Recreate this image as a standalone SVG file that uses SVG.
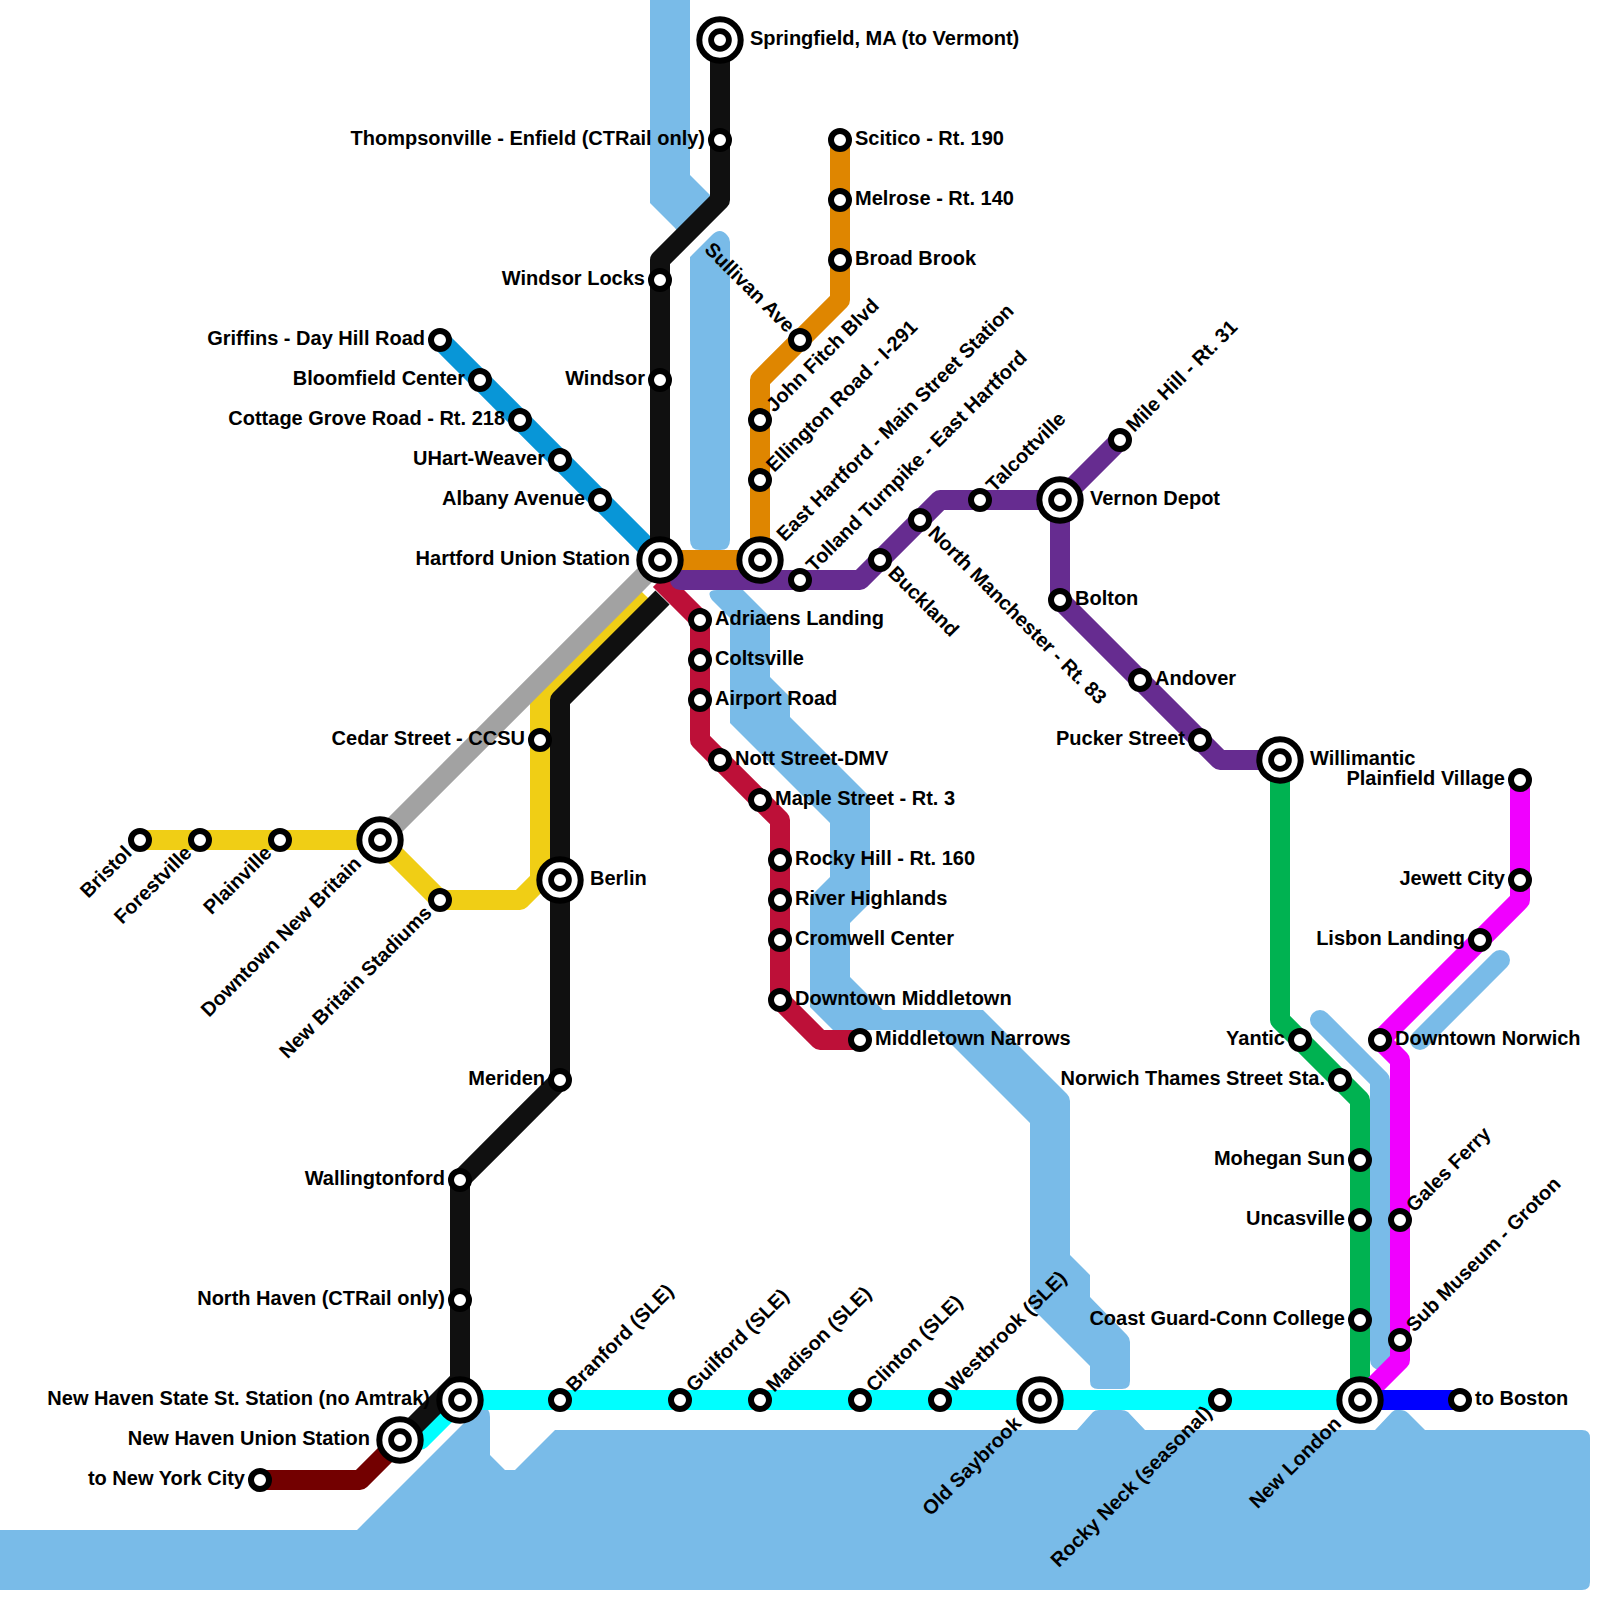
<svg xmlns="http://www.w3.org/2000/svg" width="1600" height="1600" viewBox="0 0 1600 1600">
<style>
.water{fill:#79bbe8}
.ws{fill:none;stroke:#79bbe8;stroke-width:20;stroke-linecap:round;stroke-linejoin:round}
.l{fill:none;stroke-width:20;stroke-linejoin:round}
.s{fill:#fff;stroke:#000;stroke-width:6}
.i{fill:#fff;stroke:#000;stroke-width:6}
.j{fill:#fff;stroke:#000;stroke-width:5.800}
text{font-family:"Liberation Sans",Arial,sans-serif;font-weight:700;font-size:20px;fill:#000}
.e{text-anchor:end}
</style>
<g id="water">
<path class="water" d="M0,1530 L357,1530 L478,1409 Q490,1405 490,1417 L490,1455 L505,1470 L515,1470 L555,1430 L1077,1430 L1093,1412 Q1095,1410 1099,1410 L1121,1410 Q1125,1410 1128,1412 L1145,1430 L1375,1430 L1392,1412 Q1395,1409 1400,1410 Q1405,1410 1408,1413 L1425,1430 L1582,1430 Q1590,1430 1590,1438 L1590,1582 Q1590,1590 1582,1590 L0,1590 Z"/>
<path class="water" d="M650,0 L690,0 L690,175 L710,195 L710,205 L680,235 L675,228 L650,203 Z"/>
<path class="water" d="M690,257 L712,235 Q720,227 727,235 Q730,238 730,242 L730,540 Q730,550 720,550 L700,550 Q690,550 690,540 Z"/>
<path class="water" d="M717,590 L743,590 L770,617 L770,677 L790,697 L790,717 L870,797 L870,903 L850,923 L850,977 L883,1010 L983,1010 L1067,1094 Q1070,1097 1070,1101 L1070,1255 L1090,1275 L1090,1297 L1127,1335 Q1130,1338 1130,1342 L1130,1381 Q1130,1389 1122,1389 L1098,1389 Q1090,1389 1090,1381 L1090,1366 L1030,1306 L1030,1123 L937,1030 L833,1030 L810,1007 L810,897 L830,877 L830,823 L730,723 L730,618 L712,600 Q705,590 717,590 Z"/>
<path class="ws" d="M1320,1020 L1380,1080 L1380,1360"/>
<path class="ws" d="M1420,1040 L1500,960"/>
</g>
<g id="connectors">
<path class="l" stroke="#0896d7" d="M440,340 L660,560"/>
<path class="l" stroke="#f0ce15" d="M140,840 L380,840 L440,900 L520,900 L540,880 L540,700 L645,595"/>
<path class="l" stroke="#a2a2a2" d="M380,840 L660,560"/>
<path class="l" stroke="#00ffff" d="M1360,1400 L460,1400 L420,1440 L400,1440"/>
<path class="l" stroke="#101010" d="M720,40 L720,200 L660,260 L660,560"/>
<path class="l" stroke="#101010" d="M662.500,597.500 L560,700 L560,1080 L460,1180 L460,1380 L400,1440"/>
<path class="l" stroke="#730000" d="M260,1480 L360,1480 L400,1440"/>
<path class="l" stroke="#bd1038" d="M660,580 L700,620 L700,740 L780,820 L780,1000 L820,1040 L860,1040"/>
<path class="l" stroke="#df8600" d="M660,560 L760,560 L760,380 L840,300 L840,140"/>
<path class="l" stroke="#662c90" stroke-linecap="round" d="M680,580 L860,580 L940,500 L1060,500"/>
<path class="l" stroke="#662c90" d="M1120,440 L1060,500 L1060,600 L1220,760 L1280,760"/>
<path class="l" stroke="#00b251" d="M1280,760 L1280,1020 L1360,1100 L1360,1400"/>
<path class="l" stroke="#f000ff" d="M1520,780 L1520,900 L1380,1040 L1400,1060 L1400,1360 L1360,1400"/>
<path class="l" stroke="#0000ff" d="M1360,1400 L1460,1400"/>
</g>
<g id="n-springfield"><circle class="i" cx="720" cy="40" r="20.700"/><circle class="j" cx="720" cy="40" r="8.900"/><text x="750" y="45">Springfield, MA (to Vermont)</text></g>
<g id="n-thompsonville"><circle class="s" cx="720" cy="140" r="9"/><text class="e" x="705" y="145">Thompsonville - Enfield (CTRail only)</text></g>
<g id="n-windsor-locks"><circle class="s" cx="660" cy="280" r="9"/><text class="e" x="645" y="285">Windsor Locks</text></g>
<g id="n-windsor"><circle class="s" cx="660" cy="380" r="9"/><text class="e" x="645" y="385">Windsor</text></g>
<g id="n-griffins"><circle class="s" cx="440" cy="340" r="9"/><text class="e" x="425" y="345">Griffins - Day Hill Road</text></g>
<g id="n-bloomfield"><circle class="s" cx="480" cy="380" r="9"/><text class="e" x="465" y="385">Bloomfield Center</text></g>
<g id="n-cottage"><circle class="s" cx="520" cy="420" r="9"/><text class="e" x="505" y="425">Cottage Grove Road - Rt. 218</text></g>
<g id="n-uhart"><circle class="s" cx="560" cy="460" r="9"/><text class="e" x="545" y="465">UHart-Weaver</text></g>
<g id="n-albany"><circle class="s" cx="600" cy="500" r="9"/><text class="e" x="585" y="505">Albany Avenue</text></g>
<g id="n-hartford"><circle class="i" cx="660" cy="560" r="20.700"/><circle class="j" cx="660" cy="560" r="8.900"/><text class="e" x="630" y="565">Hartford Union Station</text></g>
<g id="n-sullivan"><circle class="s" cx="800" cy="340" r="9"/><text class="e" transform="translate(800,340) rotate(45)" x="-14" y="5">Sullivan Ave</text></g>
<g id="n-john-fitch"><circle class="s" cx="760" cy="420" r="9"/><text transform="translate(760,420) rotate(-45)" x="15" y="5">John Fitch Blvd</text></g>
<g id="n-ellington"><circle class="s" cx="760" cy="480" r="9"/><text transform="translate(760,480) rotate(-45)" x="15" y="5">Ellington Road - I-291</text></g>
<g id="n-east-hartford"><circle class="i" cx="760" cy="560" r="20.700"/><circle class="j" cx="760" cy="560" r="8.900"/><text transform="translate(760,560) rotate(-45)" x="30" y="5">East Hartford - Main Street Station</text></g>
<g id="n-scitico"><circle class="s" cx="840" cy="140" r="9"/><text x="855" y="145">Scitico - Rt. 190</text></g>
<g id="n-melrose"><circle class="s" cx="840" cy="200" r="9"/><text x="855" y="205">Melrose - Rt. 140</text></g>
<g id="n-broad-brook"><circle class="s" cx="840" cy="260" r="9"/><text x="855" y="265">Broad Brook</text></g>
<g id="n-tolland"><circle class="s" cx="800" cy="580" r="9"/><text transform="translate(800,580) rotate(-45)" x="15" y="5">Tolland Turnpike - East Hartford</text></g>
<g id="n-buckland"><circle class="s" cx="880" cy="560" r="9"/><text transform="translate(880,560) rotate(45)" x="15" y="5">Buckland</text></g>
<g id="n-north-manchester"><circle class="s" cx="920" cy="520" r="9"/><text transform="translate(920,520) rotate(45)" x="15" y="5">North Manchester - Rt. 83</text></g>
<g id="n-talcottville"><circle class="s" cx="980" cy="500" r="9"/><text transform="translate(980,500) rotate(-45)" x="15" y="5">Talcottville</text></g>
<g id="n-vernon"><circle class="i" cx="1060" cy="500" r="20.700"/><circle class="j" cx="1060" cy="500" r="8.900"/><text x="1090" y="505">Vernon Depot</text></g>
<g id="n-mile-hill"><circle class="s" cx="1120" cy="440" r="9"/><text transform="translate(1120,440) rotate(-45)" x="15" y="5">Mile Hill - Rt. 31</text></g>
<g id="n-bolton"><circle class="s" cx="1060" cy="600" r="9"/><text x="1075" y="605">Bolton</text></g>
<g id="n-andover"><circle class="s" cx="1140" cy="680" r="9"/><text x="1155" y="685">Andover</text></g>
<g id="n-pucker"><circle class="s" cx="1200" cy="740" r="9"/><text class="e" x="1185" y="745">Pucker Street</text></g>
<g id="n-willimantic"><circle class="i" cx="1280" cy="760" r="20.700"/><circle class="j" cx="1280" cy="760" r="8.900"/><text x="1310" y="765">Willimantic</text></g>
<g id="n-adriaens"><circle class="s" cx="700" cy="620" r="9"/><text x="715" y="625">Adriaens Landing</text></g>
<g id="n-coltsville"><circle class="s" cx="700" cy="660" r="9"/><text x="715" y="665">Coltsville</text></g>
<g id="n-airport"><circle class="s" cx="700" cy="700" r="9"/><text x="715" y="705">Airport Road</text></g>
<g id="n-nott"><circle class="s" cx="720" cy="760" r="9"/><text x="735" y="765">Nott Street-DMV</text></g>
<g id="n-maple"><circle class="s" cx="760" cy="800" r="9"/><text x="775" y="805">Maple Street - Rt. 3</text></g>
<g id="n-rocky-hill"><circle class="s" cx="780" cy="860" r="9"/><text x="795" y="865">Rocky Hill - Rt. 160</text></g>
<g id="n-river"><circle class="s" cx="780" cy="900" r="9"/><text x="795" y="905">River Highlands</text></g>
<g id="n-cromwell"><circle class="s" cx="780" cy="940" r="9"/><text x="795" y="945">Cromwell Center</text></g>
<g id="n-downtown-middletown"><circle class="s" cx="780" cy="1000" r="9"/><text x="795" y="1005">Downtown Middletown</text></g>
<g id="n-narrows"><circle class="s" cx="860" cy="1040" r="9"/><text x="875" y="1045">Middletown Narrows</text></g>
<g id="n-cedar"><circle class="s" cx="540" cy="740" r="9"/><text class="e" x="525" y="745">Cedar Street - CCSU</text></g>
<g id="n-bristol"><circle class="s" cx="140" cy="840" r="9"/><text class="e" transform="translate(140,840) rotate(-45)" x="-15" y="5">Bristol</text></g>
<g id="n-forestville"><circle class="s" cx="200" cy="840" r="9"/><text class="e" transform="translate(200,840) rotate(-45)" x="-15" y="5">Forestville</text></g>
<g id="n-plainville"><circle class="s" cx="280" cy="840" r="9"/><text class="e" transform="translate(280,840) rotate(-45)" x="-15" y="5">Plainville</text></g>
<g id="n-downtown-nb"><circle class="i" cx="380" cy="840" r="20.700"/><circle class="j" cx="380" cy="840" r="8.900"/><text class="e" transform="translate(380,840) rotate(-45)" x="-30" y="5">Downtown New Britain</text></g>
<g id="n-nb-stadiums"><circle class="s" cx="440" cy="900" r="9"/><text class="e" transform="translate(440,900) rotate(-45)" x="-15" y="5">New Britain Stadiums</text></g>
<g id="n-berlin"><circle class="i" cx="560" cy="880" r="20.700"/><circle class="j" cx="560" cy="880" r="8.900"/><text x="590" y="885">Berlin</text></g>
<g id="n-meriden"><circle class="s" cx="560" cy="1080" r="9"/><text class="e" x="545" y="1085">Meriden</text></g>
<g id="n-wallingtonford"><circle class="s" cx="460" cy="1180" r="9"/><text class="e" x="445" y="1185">Wallingtonford</text></g>
<g id="n-north-haven"><circle class="s" cx="460" cy="1300" r="9"/><text class="e" x="445" y="1305">North Haven (CTRail only)</text></g>
<g id="n-nh-state"><circle class="i" cx="460" cy="1400" r="20.700"/><circle class="j" cx="460" cy="1400" r="8.900"/><text class="e" x="430" y="1405">New Haven State St. Station (no Amtrak)</text></g>
<g id="n-nh-union"><circle class="i" cx="400" cy="1440" r="20.700"/><circle class="j" cx="400" cy="1440" r="8.900"/><text class="e" x="370" y="1445">New Haven Union Station</text></g>
<g id="n-nyc"><circle class="s" cx="260" cy="1480" r="9"/><text class="e" x="245" y="1485">to New York City</text></g>
<g id="n-branford"><circle class="s" cx="560" cy="1400" r="9"/><text transform="translate(560,1400) rotate(-45)" x="15" y="5">Branford (SLE)</text></g>
<g id="n-guilford"><circle class="s" cx="680" cy="1400" r="9"/><text transform="translate(680,1400) rotate(-45)" x="15" y="5">Guilford (SLE)</text></g>
<g id="n-madison"><circle class="s" cx="760" cy="1400" r="9"/><text transform="translate(760,1400) rotate(-45)" x="15" y="5">Madison (SLE)</text></g>
<g id="n-clinton"><circle class="s" cx="860" cy="1400" r="9"/><text transform="translate(860,1400) rotate(-45)" x="15" y="5">Clinton (SLE)</text></g>
<g id="n-westbrook"><circle class="s" cx="940" cy="1400" r="9"/><text transform="translate(940,1400) rotate(-45)" x="15" y="5">Westbrook (SLE)</text></g>
<g id="n-old-saybrook"><circle class="i" cx="1040" cy="1400" r="20.700"/><circle class="j" cx="1040" cy="1400" r="8.900"/><text class="e" transform="translate(1040,1400) rotate(-45)" x="-30" y="5">Old Saybrook</text></g>
<g id="n-rocky-neck"><circle class="s" cx="1220" cy="1400" r="9"/><text class="e" transform="translate(1220,1400) rotate(-45)" x="-15" y="5">Rocky Neck (seasonal)</text></g>
<g id="n-new-london"><circle class="i" cx="1360" cy="1400" r="20.700"/><circle class="j" cx="1360" cy="1400" r="8.900"/><text class="e" transform="translate(1360,1400) rotate(-45)" x="-30" y="5">New London</text></g>
<g id="n-boston"><circle class="s" cx="1460" cy="1400" r="9"/><text x="1475" y="1405">to Boston</text></g>
<g id="n-yantic"><circle class="s" cx="1300" cy="1040" r="9"/><text class="e" x="1285" y="1045">Yantic</text></g>
<g id="n-thames"><circle class="s" cx="1340" cy="1080" r="9"/><text class="e" x="1325" y="1085">Norwich Thames Street Sta.</text></g>
<g id="n-mohegan"><circle class="s" cx="1360" cy="1160" r="9"/><text class="e" x="1345" y="1165">Mohegan Sun</text></g>
<g id="n-uncasville"><circle class="s" cx="1360" cy="1220" r="9"/><text class="e" x="1345" y="1225">Uncasville</text></g>
<g id="n-coast-guard"><circle class="s" cx="1360" cy="1320" r="9"/><text class="e" x="1345" y="1325">Coast Guard-Conn College</text></g>
<g id="n-plainfield"><circle class="s" cx="1520" cy="780" r="9"/><text class="e" x="1505" y="785">Plainfield Village</text></g>
<g id="n-jewett"><circle class="s" cx="1520" cy="880" r="9"/><text class="e" x="1505" y="885">Jewett City</text></g>
<g id="n-lisbon"><circle class="s" cx="1480" cy="940" r="9"/><text class="e" x="1465" y="945">Lisbon Landing</text></g>
<g id="n-downtown-norwich"><circle class="s" cx="1380" cy="1040" r="9"/><text x="1395" y="1045">Downtown Norwich</text></g>
<g id="n-gales"><circle class="s" cx="1400" cy="1220" r="9"/><text transform="translate(1400,1220) rotate(-45)" x="15" y="5">Gales Ferry</text></g>
<g id="n-sub"><circle class="s" cx="1400" cy="1340" r="9"/><text transform="translate(1400,1340) rotate(-45)" x="15" y="5">Sub Museum - Groton</text></g>
</svg>
